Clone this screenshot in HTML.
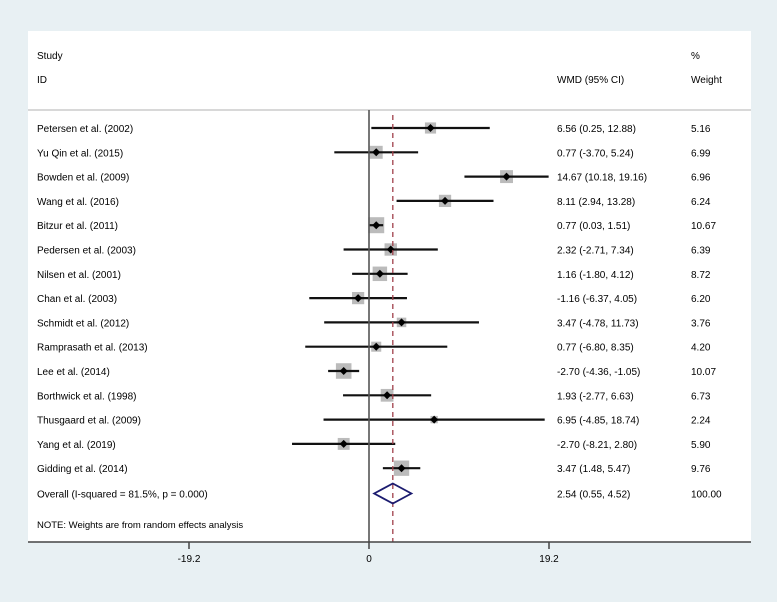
<!DOCTYPE html>
<html><head><meta charset="utf-8"><style>
body{margin:0;background:#e8f0f3;}
svg{display:block;font-family:"Liberation Sans",sans-serif;}
</style></head><body>
<svg width="777" height="602">
<rect x="28" y="31" width="723" height="511" fill="#fff"/>
<line x1="28" y1="110" x2="751" y2="110" stroke="#ccc" stroke-width="1.5"/>
<text x="37" y="59" font-size="10">Study</text>
<text x="37" y="83" font-size="10">ID</text>
<text x="557" y="83" font-size="10">WMD (95% CI)</text>
<text x="691" y="59" font-size="10">%</text>
<text x="691" y="83" font-size="10">Weight</text>
<g id="g"></g>
<text x="37" y="528" font-size="9.5">NOTE: Weights are from random effects analysis</text>
</svg>
<script>
const studies=["Petersen et al. (2002)","Yu Qin et al. (2015)","Bowden et al. (2009)","Wang et al. (2016)","Bitzur et al. (2011)","Pedersen et al. (2003)","Nilsen et al. (2001)","Chan et al. (2003)","Schmidt et al. (2012)","Ramprasath et al. (2013)","Lee et al. (2014)","Borthwick et al. (1998)","Thusgaard et al. (2009)","Yang et al. (2019)","Gidding et al. (2014)"];
const est=[6.56,0.77,14.67,8.11,0.77,2.32,1.16,-1.16,3.47,0.77,-2.70,1.93,6.95,-2.70,3.47];
const lo=[0.25,-3.70,10.18,2.94,0.03,-2.71,-1.80,-6.37,-4.78,-6.80,-4.36,-2.77,-4.85,-8.21,1.48];
const hi=[12.88,5.24,19.16,13.28,1.51,7.34,4.12,4.05,11.73,8.35,-1.05,6.63,18.74,2.80,5.47];
const weights=[5.16,6.99,6.96,6.24,10.67,6.39,8.72,6.20,3.76,4.20,10.07,6.73,2.24,5.90,9.76];
const overall=[2.54,0.55,4.52];
const overallWeight=100.00;
const ticks=[-19.2,0,19.2];
const NS="http://www.w3.org/2000/svg";
const g=document.getElementById('g');
const X=v=>369+v*(180/19.2);
const Y=i=>128+i*24.3;
function mk(t,a,txt){const e=document.createElementNS(NS,t);for(const k in a)e.setAttribute(k,a[k]);if(txt!==undefined)e.textContent=txt;g.appendChild(e);return e;}
const f=v=>v.toFixed(2);
studies.forEach((s,i)=>{
 const y=Y(i);
 let e=mk('text',{x:37,y:y+4,'font-size':10},s);
 
 
 const sz=4.9*Math.sqrt(weights[i]);
 e=mk('rect',{x:X(est[i])-sz/2,y:y-sz/2,width:sz,height:sz,fill:'#bbb'});
 
 
 e=mk('line',{x1:X(lo[i]),x2:X(hi[i]),y1:y,y2:y,stroke:'#111','stroke-width':2.2});
 
 
 const cx=X(est[i]);
 e=mk('polygon',{points:`${cx-4},${y} ${cx},${y-4} ${cx+4},${y} ${cx},${y+4}`,fill:'#000'});
 
 
 e=mk('text',{x:557,y:y+4,'font-size':10},`${f(est[i])} (${f(lo[i])}, ${f(hi[i])})`);
 
 
 e=mk('text',{x:691,y:y+4,'font-size':10},f(weights[i]));
 
 
});
const oy=Y(studies.length)+1;
let e=mk('text',{x:37,y:oy+4,'font-size':10},'Overall  (I-squared = 81.5%, p = 0.000)');


e=mk('text',{x:557,y:oy+4,'font-size':10},`${f(overall[0])} (${f(overall[1])}, ${f(overall[2])})`);


e=mk('text',{x:691,y:oy+4,'font-size':10},f(overallWeight));


e=mk('line',{x1:X(0),x2:X(0),y1:110,y2:542,stroke:'#555','stroke-width':1.6});


e=mk('line',{x1:X(overall[0]),x2:X(overall[0]),y1:115,y2:542,stroke:'#a0404a','stroke-width':1.3,'stroke-dasharray':'5,4'});


e=mk('polygon',{points:`${X(overall[1])},${oy} ${X(overall[0])},${oy-10} ${X(overall[2])},${oy} ${X(overall[0])},${oy+10}`,fill:'none',stroke:'#1c1c70','stroke-width':1.8});


e=mk('line',{x1:28,x2:751,y1:542,y2:542,stroke:'#444','stroke-width':1.5});


ticks.forEach(t=>{
 let e=mk('line',{x1:X(t),x2:X(t),y1:542,y2:549,stroke:'#444','stroke-width':1.5});
 
 
 e=mk('text',{x:X(t),y:562,'font-size':10,'text-anchor':'middle'},String(t));
 
 
});
</script>
</body></html>
